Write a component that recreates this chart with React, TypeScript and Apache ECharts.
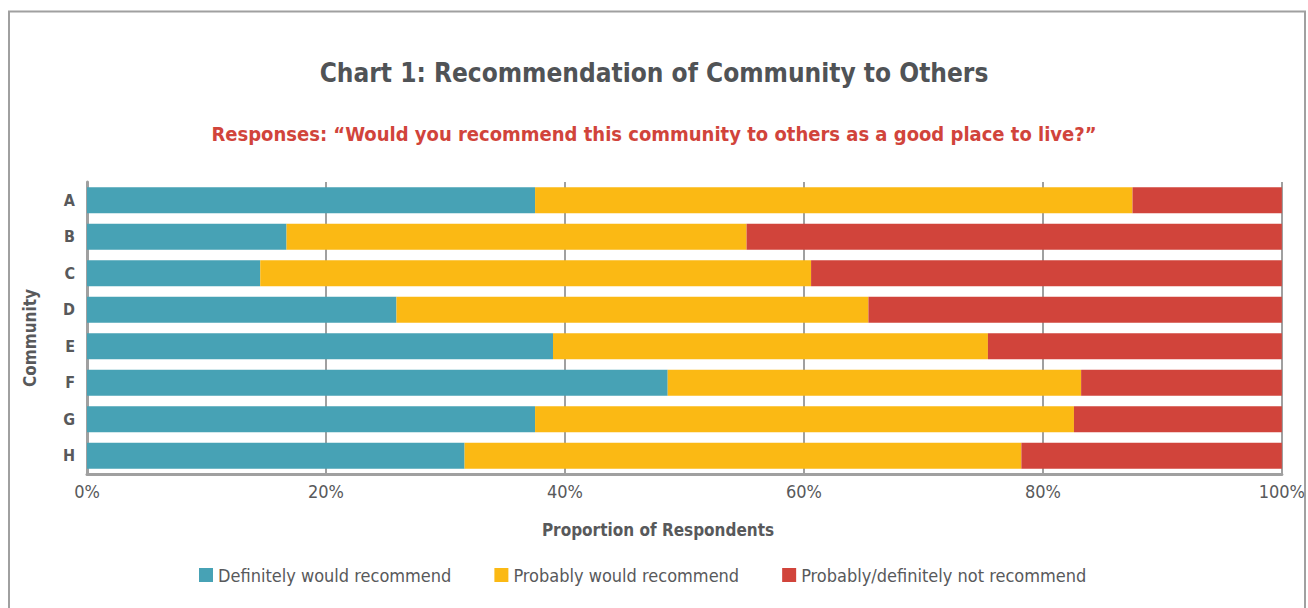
import React, { useEffect, useRef } from "react";
import * as echarts from "echarts";

const communities = ["A", "B", "C", "D", "E", "F", "G", "H"];
const definitely = [37.5, 16.7, 14.5, 25.9, 39.0, 48.6, 37.5, 31.6];
const probably = [50.0, 38.5, 46.1, 39.5, 36.4, 34.6, 45.1, 46.6];
const notRecommend = [12.5, 44.8, 39.4, 34.6, 24.6, 16.8, 17.4, 21.8];
const seriesNames = [
  "Definitely would recommend",
  "Probably would recommend",
  "Probably/definitely not recommend",
];
const colors = ["#47a2b5", "#fbb914", "#d1443b"];

const FONT = "'Liberation Sans Narrow', 'DejaVu Sans Condensed', 'Liberation Sans', sans-serif";

export default function App() {
  const ref = useRef<HTMLDivElement>(null);
  useEffect(() => {
    document.body.style.margin = "0";
    const chart = echarts.init(ref.current!, undefined, { renderer: "svg" });
    const values = [definitely, probably, notRecommend];
    chart.setOption({
      animation: false,
      backgroundColor: "#ffffff",
      textStyle: { fontFamily: FONT },
      title: [
        {
          text: "Chart 1: Recommendation of Community to Others",
          left: "center",
          top: 55,
          textStyle: { fontFamily: FONT, fontSize: 26, fontWeight: "bold", color: "#505356" },
        },
        {
          text: "Responses: \u201cWould you recommend this community to others as a good place to live?\u201d",
          left: "center",
          top: 119,
          textStyle: { fontFamily: FONT, fontSize: 20, fontWeight: "bold", color: "#d1443b" },
        },
      ],
      graphic: [
        {
          type: "rect",
          shape: { x: 9, y: 11.5, width: 1296, height: 640 },
          style: { fill: "none", stroke: "#a0a0a0", lineWidth: 2 },
          silent: true,
        },
        {
          type: "text",
          x: 30,
          y: 338,
          rotation: Math.PI / 2,
          style: {
            text: "Community",
            fontFamily: FONT,
            fontSize: 17,
            fontWeight: "bold",
            fill: "#58595b",
            align: "center",
            verticalAlign: "middle",
          },
          silent: true,
        },
        {
          type: "text",
          x: 658,
          y: 530,
          style: {
            text: "Proportion of Respondents",
            fontFamily: FONT,
            fontSize: 17,
            fontWeight: "bold",
            fill: "#58595b",
            align: "center",
            verticalAlign: "middle",
          },
          silent: true,
        },
      ],
      legend: {
        bottom: 19,
        left: 194,
        itemWidth: 14,
        itemHeight: 14,
        itemGap: 43,
        icon: "rect",
        textStyle: { fontFamily: FONT, fontSize: 18, color: "#58595b" },
        data: seriesNames,
      },
      grid: { left: 87, right: 17, top: 182, height: 292, containLabel: false },
      xAxis: {
        type: "value",
        min: 0,
        max: 100,
        interval: 20,
        axisLine: { show: true, lineStyle: { color: "#a0a0a0", width: 3 } },
        axisTick: { show: false },
        axisLabel: {
          formatter: "{value}%",
          fontFamily: FONT,
          fontSize: 18,
          color: "#58595b",
          margin: 8,
        },
        splitLine: { show: true, lineStyle: { color: "#a0a0a0", width: 2 } },
      },
      yAxis: {
        type: "category",
        inverse: true,
        data: communities,
        axisLine: { show: true, lineStyle: { color: "#a0a0a0", width: 3 } },
        axisTick: { show: false },
        axisLabel: { fontFamily: FONT, fontSize: 16, fontWeight: "bold", color: "#58595b", margin: 12 },
      },
      series: seriesNames.map((name, i) => ({
        name,
        type: "bar",
        stack: "total",
        barWidth: 26,
        itemStyle: { color: colors[i] },
        data: values[i],
      })),
    });
    return () => chart.dispose();
  }, []);
  return <div ref={ref} style={{ width: 1308, height: 608 }} />;
}
